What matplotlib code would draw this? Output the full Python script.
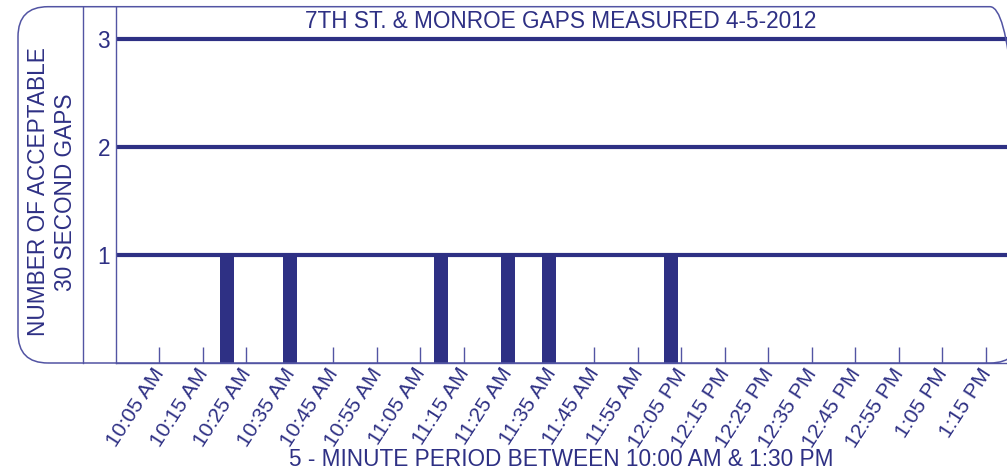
import matplotlib
matplotlib.use("Agg")
import matplotlib.pyplot as plt
import matplotlib.transforms as mtransforms
from matplotlib.patches import FancyBboxPatch
from matplotlib.lines import Line2D

plt.rcParams['font.family'] = ['Liberation Sans', 'DejaVu Sans']

# minutes after 10:00 AM for each accepted 30 second gap
gap_minutes = [20.6, 35.0, 69.9, 85.2, 94.7, 122.6]
gap_counts = [1, 1, 1, 1, 1, 1]

tick_minutes = list(range(5, 200, 10))
tick_labels = ["10:05 AM", "10:15 AM", "10:25 AM", "10:35 AM", "10:45 AM",
               "10:55 AM", "11:05 AM", "11:15 AM", "11:25 AM", "11:35 AM",
               "11:45 AM", "11:55 AM", "12:05 PM", "12:15 PM", "12:25 PM",
               "12:35 PM", "12:45 PM", "12:55 PM", "1:05 PM", "1:15 PM"]
y_ticks = [1, 2, 3]

navy = '#2e3084'
thin = '#5254a3'
W, H = 1007, 470

fig = plt.figure(figsize=(W / 100, H / 100), dpi=100)

# outer rounded frame (drawn in inches so the corners stay round)
box = FancyBboxPatch((18 / 100, (H - 363) / 100), (1020 - 18) / 100, (363 - 6.7) / 100,
                     boxstyle="round,pad=0,rounding_size=0.3",
                     transform=fig.dpi_scale_trans, facecolor='none',
                     edgecolor=thin, linewidth=1.1)
fig.add_artist(box)
fig.add_artist(Line2D([83 / W, 83 / W], [(H - 363) / H, (H - 6.7) / H],
                      transform=fig.transFigure, color=thin, linewidth=1.0))

ax = fig.add_axes([115.7 / W, (H - 363) / H, (1029 - 115.7) / W, (363 - 6.7) / H])
ax.set_xlim(-5, 205)
ax.set_ylim(0, 3.302)

for y in y_ticks:
    ax.axhline(y, color=navy, linewidth=3.0, zorder=2)

ax.bar(gap_minutes, gap_counts, width=3.2, color=navy, zorder=3)

for s in ['top', 'right']:
    ax.spines[s].set_visible(False)
for s in ['left', 'bottom']:
    ax.spines[s].set_color(thin)
    ax.spines[s].set_linewidth(1.0)

ax.set_yticks(y_ticks)
ax.set_yticklabels([str(v) for v in y_ticks])
ax.tick_params(axis='y', length=0, pad=4, labelsize=16.3, labelcolor=navy)

ax.set_xticks(tick_minutes)
ax.set_xticklabels(tick_labels)
ax.tick_params(axis='x', direction='in', length=11.5, width=1.0, color=thin,
               pad=7, labelsize=15.2, labelcolor=navy)
offset = mtransforms.ScaledTranslation(6 / 100, 0, fig.dpi_scale_trans)
for lab in ax.get_xticklabels():
    lab.set_rotation(57)
    lab.set_rotation_mode('anchor')
    lab.set_ha('right')
    lab.set_va('baseline')
    lab.set_transform(lab.get_transform() + offset)

fig.text(561 / W, 1 - 22 / H, "7TH ST. & MONROE GAPS MEASURED 4-5-2012",
         ha='center', va='center', fontsize=16.3, color=navy)
fig.text(52 / W, 1 - 192 / H, "NUMBER OF ACCEPTABLE\n30 SECOND GAPS",
         rotation=90, ha='center', va='center', multialignment='center',
         fontsize=16.3, color=navy)
fig.text(561 / W, 4.5 / H, "5 - MINUTE PERIOD BETWEEN 10:00 AM & 1:30 PM",
         ha='center', va='baseline', fontsize=16.3, color=navy)

fig.savefig('out.png', dpi=100)
